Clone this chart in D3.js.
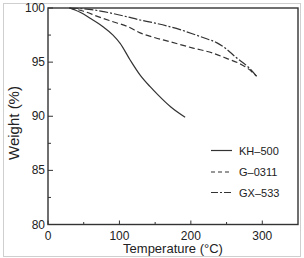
<!DOCTYPE html>
<html><head><meta charset="utf-8">
<script src="https://cdn.jsdelivr.net/npm/d3@7"></script>
<style>body{margin:0;background:#fff}svg{display:block;font-family:"Liberation Sans",Arial,sans-serif}</style>
</head><body><svg id="c" width="304" height="258"></svg>
<script>
const seriesNames = ["KH–500", "G–0311", "GX–533"];
const kh500 = [[30,100],[45,99.6],[59,99.05],[77,98.27],[91,97.5],[101,96.74],[115,95.2],[129,93.8],[143,92.73],[154,91.97],[172,90.85],[192,89.9]];
const g0311 = [[30,100],[50,99.7],[70,99.2],[90,98.75],[112,98.27],[129,97.7],[150,97.25],[170,96.9],[203,96.3],[230,95.85],[250,95.35],[270,94.8],[280,94.4],[292,93.7]];
const gx533 = [[30,100],[66,99.8],[78,99.66],[110,99.2],[125,98.95],[150,98.6],[185,98.0],[203,97.6],[220,97.2],[236,96.8],[250,96.2],[262,95.5],[281,94.5],[292,93.7]];
const xTicks = [0,100,200,300];
const xMinor = [50,150,250];
const yTicks = [80,85,90,95,100];
const yMinor = [82.5,87.5,92.5,97.5];

const svg = d3.select("#c");
svg.append("rect").attr("x",3.5).attr("y",3.5).attr("width",297).attr("height",253)
  .attr("fill","none").attr("stroke","#cfcfcf").attr("stroke-width",1);

const L=48,R=298,T=8,B=224.5;
const x = d3.scaleLinear().domain([0,350]).range([L,R]);
const y = d3.scaleLinear().domain([80,100]).range([B,T]);
const ink="#333";

svg.append("rect").attr("x",L).attr("y",T).attr("width",R-L).attr("height",B-T)
  .attr("fill","none").attr("stroke",ink).attr("stroke-width",1.4);

const gx = svg.append("g");
xTicks.forEach(t=>{
  gx.append("line").attr("x1",x(t)).attr("x2",x(t)).attr("y1",B).attr("y2",B-4).attr("stroke",ink);
  gx.append("text").attr("x",x(t)).attr("y",B+15).attr("text-anchor","middle").attr("font-size",12).attr("fill","#222").text(t);
});
xMinor.forEach(t=>gx.append("line").attr("x1",x(t)).attr("x2",x(t)).attr("y1",B).attr("y2",B-2.5).attr("stroke",ink));
const gy = svg.append("g");
yTicks.forEach(t=>{
  gy.append("line").attr("x1",L).attr("x2",L+5).attr("y1",y(t)).attr("y2",y(t)).attr("stroke",ink);
  gy.append("text").attr("x",L-3).attr("y",y(t)+4).attr("text-anchor","end").attr("font-size",12).attr("fill","#222").text(t);
});
yMinor.forEach(t=>gy.append("line").attr("x1",L).attr("x2",L+3).attr("y1",y(t)).attr("y2",y(t)).attr("stroke",ink));

svg.append("text").attr("x",(L+R)/2).attr("y",253).attr("text-anchor","middle").attr("font-size",13).attr("fill","#222").text("Temperature (°C)");
svg.append("text").attr("transform","translate(19,123) rotate(-90)").attr("text-anchor","middle").attr("font-size",15).attr("fill","#222").text("Weight (%)");

const line = d3.line().x(d=>x(d[0])).y(d=>y(d[1])).curve(d3.curveMonotoneX);
const dashes = [null,"6,3","9,2,2,2"];
[kh500,g0311,gx533].forEach((s,i)=>{
  svg.append("path").attr("d",line(s)).attr("fill","none").attr("stroke",ink).attr("stroke-width",1.2)
    .attr("stroke-dasharray",dashes[i]);
});

const ly=[150.5,172,192.5];
seriesNames.forEach((n,i)=>{
  svg.append("line").attr("x1",211).attr("x2",232).attr("y1",ly[i]).attr("y2",ly[i]).attr("stroke",ink).attr("stroke-width",1.2)
    .attr("stroke-dasharray",i==1?"4,3":(i==2?"7,2,2,2":null));
  svg.append("text").attr("x",239).attr("y",ly[i]+4).attr("font-size",11).attr("fill","#222").text(n);
});
</script></body></html>
